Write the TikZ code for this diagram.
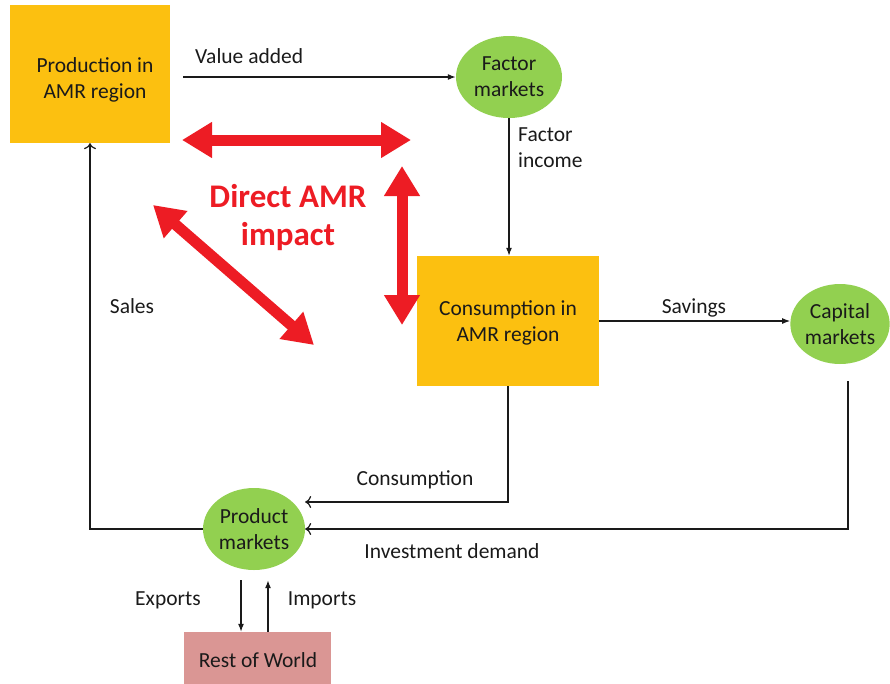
\documentclass[tikz,border=0pt]{standalone}
\usepackage{fontspec}
\setmainfont{Carlito}
\usetikzlibrary{arrows.meta,shapes.geometric}
\definecolor{boxorange}{HTML}{FCC010}
\definecolor{mktgreen}{HTML}{92D050}
\definecolor{rowpink}{HTML}{DA9694}
\definecolor{amrred}{HTML}{ED1C24}
\definecolor{ink}{HTML}{1A1A1A}
\begin{document}
\begin{tikzpicture}[x=1pt,y=-1pt,
  every node/.style={text=ink,font=\fontsize{21.5}{26}\selectfont},
  region/.style={rectangle,fill=boxorange,align=center,inner sep=0pt},
  market/.style={ellipse,fill=mktgreen,align=center,inner sep=0pt},
  world/.style={rectangle,fill=rowpink,inner sep=0pt},
  lbl/.style={align=left,inner sep=0pt},
  flow/.style={draw=ink,line width=1.2pt,-{Latex[length=8pt,width=6pt]}},
  openflow/.style={draw=ink,line width=1.2pt,-{To[length=6pt,width=12pt]}},
  impact/.style={draw=amrred,line width=11pt,
    {Triangle[length=30pt,width=34pt]}-{Triangle[length=30pt,width=34pt]}},
  impacttext/.style={text=amrred,font=\fontsize{33}{38}\selectfont\bfseries,align=center}]
\useasboundingbox (0,0) rectangle (890,683);

% boxes and markets
\node[region,minimum width=160pt,minimum height=138pt] (prod) at (90,74) {};
\node[align=center] (prodtext) at (95,80) {Production in\\AMR region};
\node[region,minimum width=182pt,minimum height=130pt] (cons) at (508,321) {};
\node[align=center] (constext) at (508,323) {Consumption in\\AMR region};
\node[market,minimum width=106pt,minimum height=82pt] (factor) at (509,77) {Factor\\markets};
\node[market,minimum width=94pt,minimum height=80pt] (capital) at (840,324) {Capital\\markets};
\node[market,minimum width=102pt,minimum height=82pt] (product) at (254,529) {Product\\markets};
\node[world,minimum width=147pt,minimum height=58pt] (rest) at (257.5,661) {};
\node (resttext) at (258,660) {Rest of World};

% flows
\draw[flow] ([xshift=13pt]prod.east |- factor.west) -- (factor.west);
\draw[flow] (factor.south) -- (factor.south |- cons.north);
\draw[flow] (cons.east) -- (cons.east -| capital.west);
\draw[openflow] (cons.south) |- ([yshift=27pt]product.east);
\draw[openflow] ([xshift=8pt,yshift=-17pt]capital.south) |- (product.east);
\draw[openflow] (product.west) -| (prod.south);
\draw[flow] ([xshift=-13pt,yshift=-10pt]product.south) -- ([xshift=-16.5pt]rest.north);
\draw[flow] ([xshift=10.5pt]rest.north) -- ([xshift=14pt,yshift=-10pt]product.south);

% flow labels
\node[lbl,anchor=west] (lva) at (195,56) {Value added};
\node[lbl,anchor=north west] (lfi) at (518,128) {Factor\\income};
\node[lbl] (lsav) at (694,308) {Savings};
\node[lbl] (lcons) at (415,480) {Consumption};
\node[lbl] (linv) at (452,551) {Investment demand};
\node[lbl] (lsales) at (132,306) {Sales};
\node[lbl] (lexp) at (168,600) {Exports};
\node[lbl] (limp) at (322,600) {Imports};

% direct impact
\node[impacttext] (amr) at (288,218) {Direct AMR\\impact};
\coordinate (h1) at (182,140);
\coordinate (h2) at (411,140);
\coordinate (v1) at (402,166);
\coordinate (v2) at (402,325);
\coordinate (d1) at (153,205);
\coordinate (d2) at (314,345);
\draw[impact] (h1) -- (h2);
\draw[impact] (v1) -- (v2);
\draw[impact] (d1) -- (d2);
\end{tikzpicture}
\end{document}
